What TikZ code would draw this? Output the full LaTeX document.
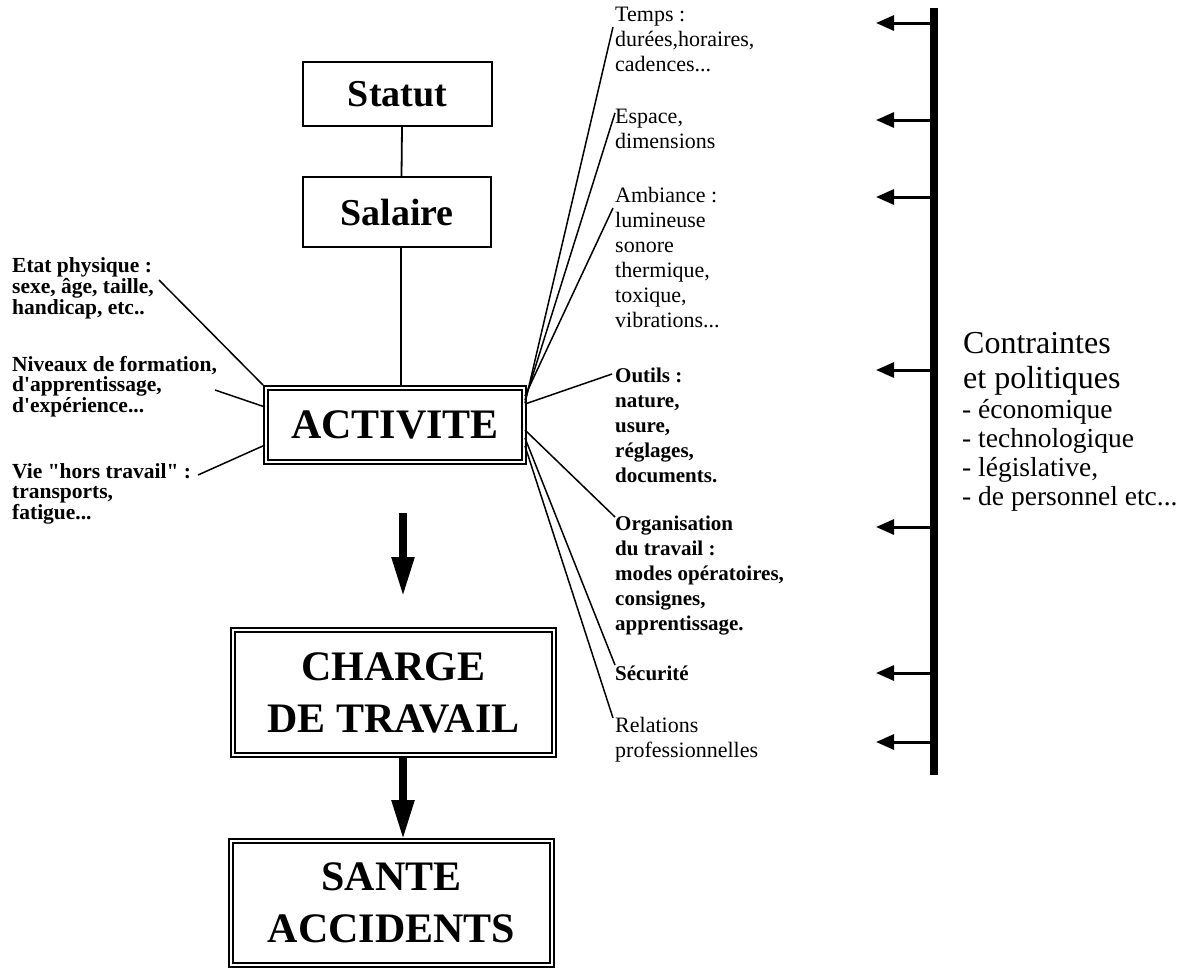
\documentclass[tikz,border=0pt]{standalone}
\usepackage{fontspec}
\setmainfont{Liberation Serif}[Ligatures=TeXOff]
\usetikzlibrary{arrows.meta}
\begin{document}
\begin{tikzpicture}[x=1pt,y=-1pt,
  lw/.style={line width=1.5pt},
  sbox/.style={draw, line width=2pt, inner sep=0pt, font=\bfseries\fontsize{38}{40}\selectfont},
  dbox/.style={draw, line width=1.6pt, double, double distance=2.4pt, font=\bfseries\fontsize{42}{52}\selectfont, align=center, inner sep=0pt},
  ltxt/.style={font=\bfseries\fontsize{21.5}{19.5}\selectfont, align=left, anchor=base west, inner sep=0pt},
  rtxt/.style={font=\fontsize{22}{25}\selectfont, align=left, anchor=base west, inner sep=0pt},
  rbtxt/.style={font=\bfseries\fontsize{21}{25}\selectfont, align=left, anchor=base west, inner sep=0pt},
  ctitle/.style={font=\fontsize{32}{35}\selectfont, align=left, anchor=base west, inner sep=0pt},
  clist/.style={font=\fontsize{27.5}{28.7}\selectfont, align=left, anchor=base west, inner sep=0pt},
  bigarrow/.style={line width=8pt, -{Triangle[length=40pt,width=21pt]}},
  harrow/.style={line width=3pt, -{Triangle[length=18pt,width=15pt]}},
]
\useasboundingbox (0,0) rectangle (1181,970);

% main boxes
\node[sbox, minimum width=189pt, minimum height=64pt] (statut) at (397.5,94) {Statut};
\node[sbox, minimum width=188pt, minimum height=70pt] (salaire) at (397,212) {Salaire};
\node[dbox, minimum width=258.4pt, minimum height=74.4pt] (act) at (395,425) {ACTIVITE};
\node[dbox, minimum width=321.4pt, minimum height=125.4pt] (charge) at (393.5,692.5) {CHARGE\\DE TRAVAIL};
\node[dbox, minimum width=321.4pt, minimum height=124.4pt] (sante) at (391.5,903) {SANTE\\ACCIDENTS};

\draw[line width=1.8pt] ([xshift=4.5pt]statut.south) -- ([xshift=4.5pt]salaire.north);
\draw[line width=1.8pt] ([xshift=4pt]salaire.south) -- ([xshift=4pt]salaire.south |- act.north);

\draw[bigarrow] ([shift={(8,50)}]act.south) -- ([shift={(9.5,-32)}]charge.north);
\draw[bigarrow] ([xshift=9.5pt]charge.south) -- ([xshift=11.5pt]sante.north);

% left texts (positioned at the baseline of their last line)
\node[ltxt] (etat) at (12,314) {Etat physique :\\sexe, âge, taille,\\handicap, etc..};
\node[ltxt] (niv) at (12,412) {Niveaux de formation,\\d'apprentissage,\\d'expérience...};
\node[ltxt] (vie) at (12,519) {Vie "hors travail" :\\transports,\\fatigue...};

\draw[lw] ([shift={(147,-34)}]etat.base west) -- ([shift={(-2,-2)}]act.north west);
\draw[lw] ([shift={(203,-22)}]niv.base west) -- ([yshift=18pt]act.west);
\draw[lw] ([shift={(186,-44)}]vie.base west) -- ([yshift=-20pt]act.west);

% right texts
\node[rtxt] (temps) at (615,71) {Temps :\\durées,horaires,\\cadences...};
\node[rtxt] (espace) at (615,148) {Espace,\\dimensions};
\node[rtxt] (amb) at (615,327) {Ambiance :\\lumineuse\\sonore\\thermique,\\toxique,\\vibrations...};
\node[rbtxt] (outils) at (615,482) {Outils :\\nature,\\usure,\\réglages,\\documents.};
\node[rbtxt] (org) at (615,630) {Organisation\\du travail :\\modes opératoires,\\consignes,\\apprentissage.};
\node[rbtxt] (secu) at (615,680) {Sécurité};
\node[rtxt] (rel) at (615,757) {Relations\\professionnelles};

\draw[lw] ([yshift=22pt]act.east) -- ([shift={(-2,-44)}]temps.base west);
\draw[lw] ([yshift=25pt]act.east) -- ([shift={(0,-35)}]espace.base west);
\draw[lw] ([yshift=29pt]act.east) -- ([shift={(-2,-119)}]amb.base west);
\draw[lw] ([yshift=21pt]act.east) -- ([shift={(-3,-108)}]outils.base west);
\draw[lw] ([yshift=-5pt]act.east) -- ([shift={(0,-113)}]org.base west);
\draw[lw] ([yshift=-13pt]act.east) -- ([shift={(0,-15)}]secu.base west);
\draw[lw] ([yshift=-21pt]act.east) -- ([shift={(-2,-39)}]rel.base west);

% constraints bar
\coordinate (bartop) at (934,8);
\coordinate (barbot) at (934,775);
\draw[line width=8pt] (bartop) -- (barbot);
\foreach \yy [count=\i] in {23,120,197,370,527,673,742} {
  \coordinate (b\i) at (930,\yy);
  \coordinate (t\i) at (876,\yy);
  \draw[harrow] (b\i) -- (t\i);
}

\node[ctitle] (ctr) at (963,388) {Contraintes\\et politiques};
\node[clist] (clst) at (962,505) {- économique\\- technologique\\- législative,\\- de personnel etc...};
\end{tikzpicture}
\end{document}
